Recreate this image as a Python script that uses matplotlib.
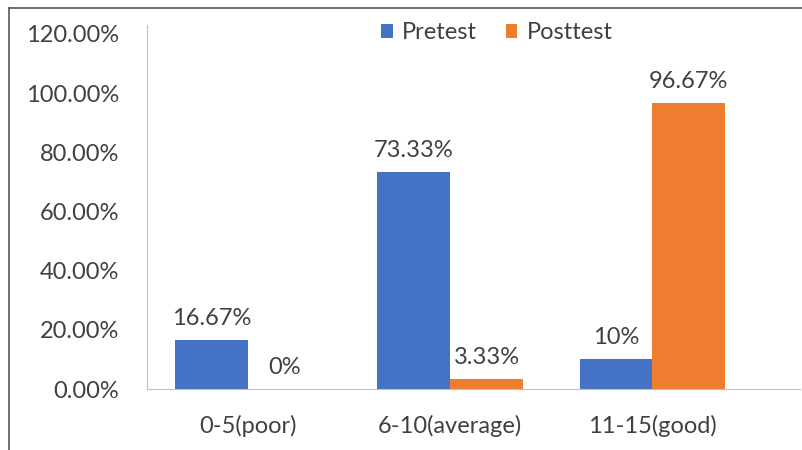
import matplotlib.pyplot as plt
from matplotlib.lines import Line2D
import numpy as np

# data
categories = ["0-5(poor)", "6-10(average)", "11-15(good)"]
pretest = [0.1667, 0.7333, 0.10]
posttest = [0.0, 0.0333, 0.9667]
pre_labels = ["16.67%", "73.33%", "10%"]
post_labels = ["0%", "3.33%", "96.67%"]
yticks = [0.0, 0.2, 0.4, 0.6, 0.8, 1.0, 1.2]

BLUE = "#4472C4"
ORANGE = "#EF7D2F"
TXT = "#404040"
FS = 17

plt.rcParams["font.family"] = ["Lato", "DejaVu Sans"]

fig = plt.figure(figsize=(8.03, 4.5), dpi=100)
W, H = 803, 450
# plot area in pixels: left 147, right 800, bottom 389, top 25
ax = fig.add_axes([147 / W, 1 - 389 / H, (800 - 147) / W, (389 - 25) / H])

x = np.arange(len(categories))
w = 0.36
b1 = ax.bar(x - w / 2, pretest, w, color=BLUE, label="Pretest")
b2 = ax.bar(x + w / 2, posttest, w, color=ORANGE, label="Posttest")

for bars, labels in ((b1, pre_labels), (b2, post_labels)):
    for r, lab in zip(bars, labels):
        ax.annotate(lab, (r.get_x() + r.get_width() / 2, r.get_height()),
                    xytext=(0, 8), textcoords="offset points",
                    ha="center", va="bottom", fontsize=FS, color=TXT)

ax.set_xlim(-0.5, 2.73)
ax.set_ylim(0, 1.23)
ax.set_yticks(yticks)
ax.set_yticklabels([f"{v * 100:.2f}%" for v in yticks])
ax.set_xticks(x)
ax.set_xticklabels(categories)
ax.tick_params(axis="y", length=0, pad=20, labelsize=FS, labelcolor=TXT)
ax.tick_params(axis="x", length=0, pad=19, labelsize=FS, labelcolor=TXT)

for s in ("top", "right"):
    ax.spines[s].set_visible(False)
ax.spines["left"].set_color("#BFBFBF")
ax.spines["bottom"].set_color("#BFBFBF")

ax.legend(loc="upper center", bbox_to_anchor=(497 / W, 1 - 1 / H),
          bbox_transform=fig.transFigure, ncol=2, frameon=False,
          fontsize=FS, handlelength=0.5, handleheight=0.5,
          handletextpad=0.4, columnspacing=1.2, labelcolor=TXT)

# image frame lines
fig.add_artist(Line2D([9 / W, 1], [1 - 8 / H, 1 - 8 / H], color="#555555", lw=1.2))
fig.add_artist(Line2D([9 / W, 9 / W], [0, 1 - 8 / H], color="#555555", lw=1.2))

fig.savefig("out.png", dpi=100)
